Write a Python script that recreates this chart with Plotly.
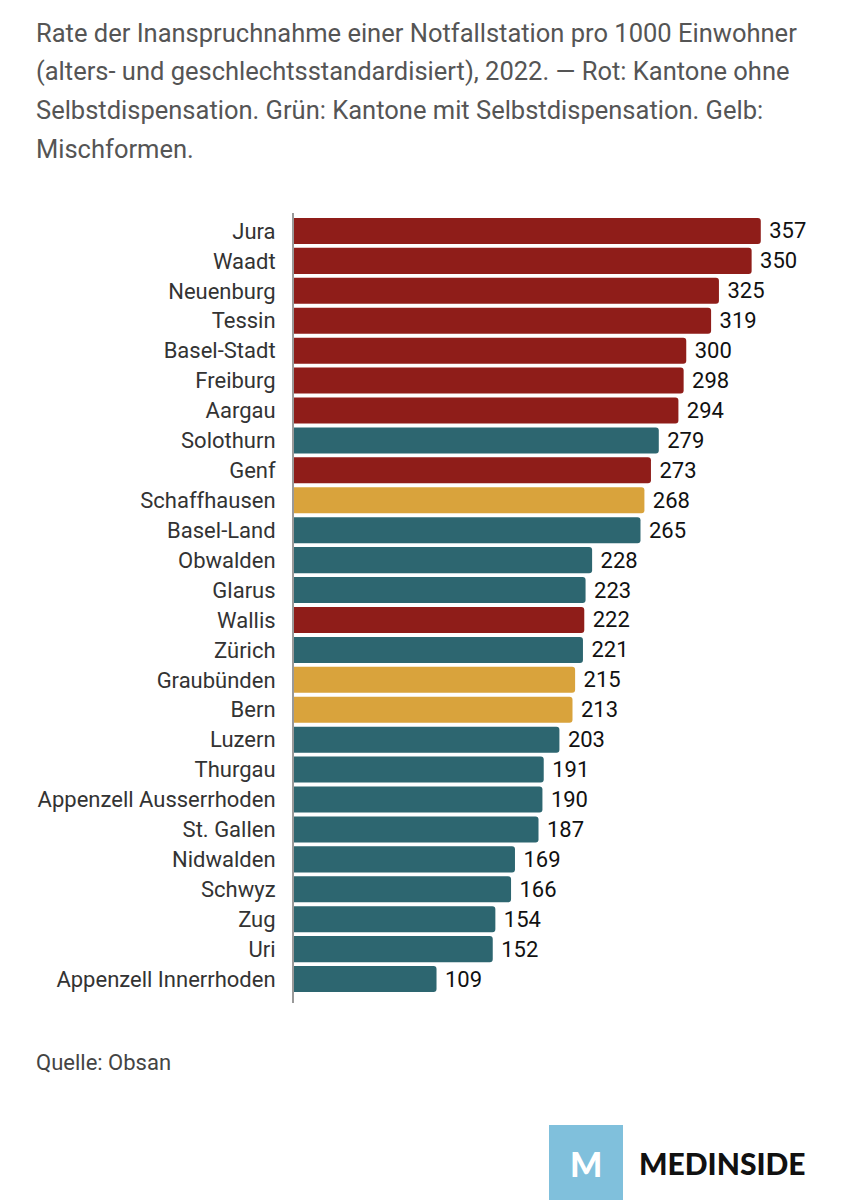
import plotly.graph_objects as go

# Daten: Rate pro 1000 Einwohner, 2022 (Quelle: Obsan)
kantone = [
    "Jura", "Waadt", "Neuenburg", "Tessin", "Basel-Stadt", "Freiburg", "Aargau",
    "Solothurn", "Genf", "Schaffhausen", "Basel-Land", "Obwalden", "Glarus",
    "Wallis", "Zürich", "Graubünden", "Bern", "Luzern", "Thurgau",
    "Appenzell Ausserrhoden", "St. Gallen", "Nidwalden", "Schwyz", "Zug", "Uri",
    "Appenzell Innerrhoden",
]
rate = [357, 350, 325, 319, 300, 298, 294, 279, 273, 268, 265, 228, 223,
        222, 221, 215, 213, 203, 191, 190, 187, 169, 166, 154, 152, 109]
# r = ohne Selbstdispensation, g = mit, y = Mischform
gruppe = ["r", "r", "r", "r", "r", "r", "r", "g", "r", "y", "g", "g", "g",
          "r", "g", "y", "y", "g", "g", "g", "g", "g", "g", "g", "g", "g"]

farben = {"r": "#8f1d19", "g": "#2d6670", "y": "#d9a33c"}

titel_zeilen = [
    "Rate der Inanspruchnahme einer Notfallstation pro 1000 Einwohner",
    "(alters- und geschlechtsstandardisiert), 2022. — Rot: Kantone ohne",
    "Selbstdispensation. Grün: Kantone mit Selbstdispensation. Gelb:",
    "Mischformen.",
]

# Seite hat 8px Rand -> Figur etwas kleiner, Koordinaten um 8px verschoben
L, T, W, H = 286, 205, 523, 790


def px_x(x):
    return (x - L) / W


def px_y(y):
    return 1 - (y - T) / H


fig = go.Figure(go.Bar(
    x=rate,
    y=kantone,
    orientation="h",
    marker=dict(color=[farben[g] for g in gruppe], line=dict(width=0)),
    text=[f" {v}" for v in rate],
    textposition="outside",
    textfont=dict(family="Roboto", size=22, color="#111111"),
    cliponaxis=False,
    width=0.87,
))

fig.update_layout(
    width=844,
    height=1192,
    paper_bgcolor="white",
    plot_bgcolor="white",
    margin=dict(l=L, r=844 - L - W, t=T, b=1192 - T - H),
    barcornerradius=3,
    showlegend=False,
    font=dict(family="Roboto", color="#333333"),
)

fig.update_xaxes(range=[0, 400], visible=False)
fig.update_yaxes(
    range=[25.8, -0.6],
    showline=True, linecolor="#999999", linewidth=2,
    ticks="", ticklabelstandoff=12,
    tickfont=dict(family="Roboto", size=22, color="#333333"),
    showgrid=False, zeroline=False,
)

# Titel in einzelnen Zeilen
for i, zeile in enumerate(titel_zeilen):
    fig.add_annotation(
        text=zeile, xref="paper", yref="paper",
        x=px_x(26), y=px_y(25 + 38.5 * i),
        xanchor="left", yanchor="middle", showarrow=False,
        font=dict(family="Roboto", size=25.5, color="#555555"),
    )

fig.add_annotation(
    text="Quelle: Obsan", xref="paper", yref="paper",
    x=px_x(26), y=px_y(1054),
    xanchor="left", yanchor="middle", showarrow=False,
    font=dict(family="Roboto", size=22, color="#444444"),
)

# Logo
fig.add_shape(
    type="rect", xref="paper", yref="paper",
    x0=px_x(541), x1=px_x(615), y0=px_y(1192), y1=px_y(1117),
    fillcolor="#80c0dc", line=dict(width=0),
)
fig.add_annotation(
    text="M", xref="paper", yref="paper",
    x=px_x(578), y=px_y(1155),
    xanchor="center", yanchor="middle", showarrow=False,
    font=dict(family="Lato", size=34, color="white", weight=900),
)
fig.add_annotation(
    text="MEDINSIDE", xref="paper", yref="paper",
    x=px_x(629), y=px_y(1155),
    xanchor="left", yanchor="middle", showarrow=False,
    font=dict(family="Lato", size=30, color="#111111", weight=900),
)

fig.write_html("out.html")
